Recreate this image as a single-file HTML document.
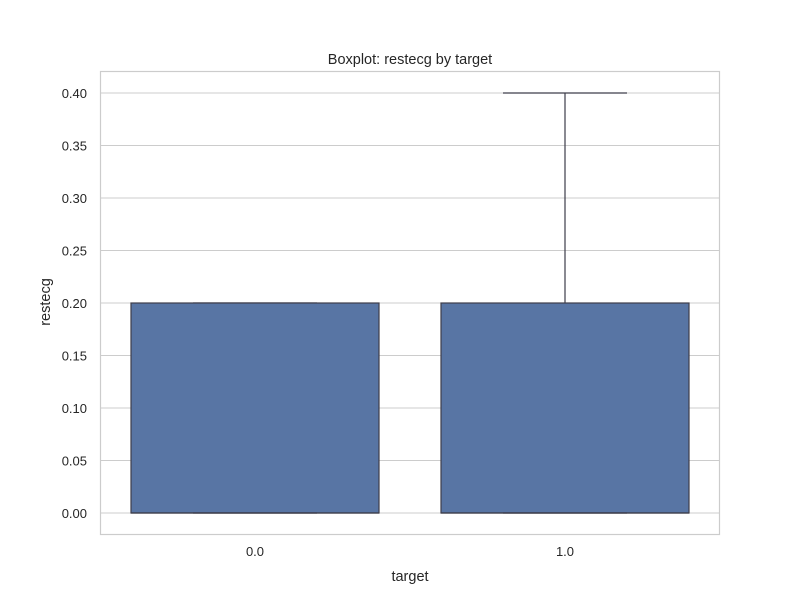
<!DOCTYPE html>
<html><head><meta charset="utf-8"><style>body{margin:0;background:#fff}svg{display:block;font-family:"Liberation Sans","DejaVu Sans",sans-serif}</style></head>
<body>
<svg id="chart" width="800" height="600">
<rect x="0" y="0" width="800" height="600" fill="#fff"/>
<text x="410" y="64" text-anchor="middle" font-size="14.5" fill="#262626">Boxplot: restecg by target</text>
<g id="grid"></g><g id="boxes"></g><g id="ticks"></g>
<rect x="100.5" y="71.5" width="619" height="463" fill="none" stroke="#cccccc" stroke-width="1.2"/>
<text x="410" y="581" text-anchor="middle" font-size="14.5" fill="#262626">target</text>
<text transform="translate(50,302) rotate(-90)" text-anchor="middle" font-size="14.5" fill="#262626">restecg</text>
</svg>
<script>
const categories=["0.0","1.0"];
const whiskerLow=[0,0];
const q1=[0,0];
const medians=[0,0];
const q3=[0.2,0.2];
const whiskerHigh=[0.2,0.4];
const yTicks=[0,0.05,0.1,0.15,0.2,0.25,0.3,0.35,0.4];
const NS="http://www.w3.org/2000/svg";
function y(v){return 513-v*1050;}
function xc(i){return 255+i*310;}
function mk(tag,attrs,parent){const e=document.createElementNS(NS,tag);for(const k in attrs)e.setAttribute(k,attrs[k]);document.getElementById(parent).appendChild(e);return e;}
yTicks.forEach(t=>{
 const l=mk('line',{x1:100,x2:720,y1:y(t),y2:y(t),stroke:'#cccccc','stroke-width':1.1},'grid');
 
 
 const tx=mk('text',{x:87,y:y(t)+5,'text-anchor':'end','font-size':13,fill:'#262626'},'ticks');
 tx.textContent=t.toFixed(2);
 
 
});
categories.forEach((c,i)=>{
 const cx=xc(i),hw=124,cw=62,st='#3d3d4a';
 const w1=mk('line',{x1:cx,x2:cx,y1:y(q3[i]),y2:y(whiskerHigh[i]),stroke:st,'stroke-width':1.2},'boxes');
 
 
 const w2=mk('line',{x1:cx,x2:cx,y1:y(q1[i]),y2:y(whiskerLow[i]),stroke:st,'stroke-width':1.2},'boxes');
 
 
 const c1=mk('line',{x1:cx-cw,x2:cx+cw,y1:y(whiskerHigh[i]),y2:y(whiskerHigh[i]),stroke:st,'stroke-width':1.2},'boxes');
 
 
 const b=mk('rect',{x:cx-hw,width:hw*2,y:y(q3[i]),height:Math.max(0,y(q1[i])-y(q3[i])),fill:'#5875a4',stroke:st,'stroke-width':1.2},'boxes');
 
 
 const c2=mk('line',{x1:cx-cw,x2:cx+cw,y1:y(whiskerLow[i]),y2:y(whiskerLow[i]),stroke:st,'stroke-width':1.2},'boxes');
 
 
 const m=mk('line',{x1:cx-hw,x2:cx+hw,y1:y(medians[i]),y2:y(medians[i]),stroke:st,'stroke-width':1.2},'boxes');
 
 
 const tx=mk('text',{x:cx,y:556,'text-anchor':'middle','font-size':13,fill:'#262626'},'ticks');
 tx.textContent=c;
 
 
});
</script>
</body></html>
